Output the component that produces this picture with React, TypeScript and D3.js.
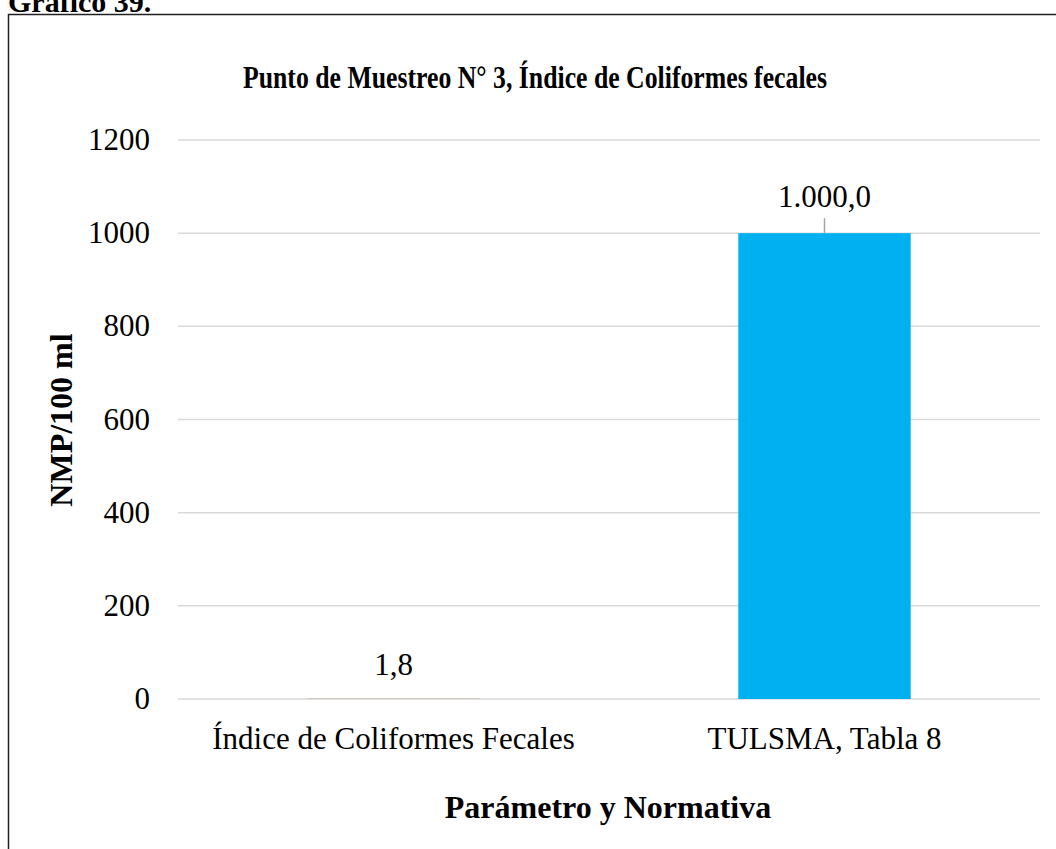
import React from "react";
import * as d3 from "d3";

const categories = ["Índice de Coliformes Fecales", "TULSMA, Tabla 8"];
const values = [1.8, 1000];
const valueLabels = ["1,8", "1.000,0"];
const barColors = ["#CBC2B6", "#00B0F0"];
const yTicks = [0, 200, 400, 600, 800, 1000, 1200];

const W = 1056;
const H = 849;
const left = 178;
const right = 1040;
const top = 140;
const bottom = 699;

export default function App() {
  const x = d3.scaleBand<string>().domain(categories).range([left, right]).padding(0);
  const y = d3.scaleLinear().domain([0, 1200]).range([bottom, top]);
  const bw = x.bandwidth() * 0.4;
  const serif = "'Liberation Serif', 'Times New Roman', serif";

  return (
    <svg
      width={W}
      height={H}
      style={{ position: "absolute", left: 0, top: 0, background: "#fff" }}
      fontFamily={serif}
    >
      <text x={8} y={12} fontSize={30} fontWeight="bold" fill="#000">Gráfico 39.</text>
      <rect x={8.5} y={14.5} width={1200} height={1000} fill="none" stroke="#222" strokeWidth={1.5} />
      <text
        x={535}
        y={88}
        fontSize={31}
        fontWeight="bold"
        textAnchor="middle"
        textLength={584}
        lengthAdjust="spacingAndGlyphs"
        fill="#000"
      >
        Punto de Muestreo N° 3, Índice de Coliformes fecales
      </text>
      {yTicks.map((t) => (
        <g key={t}>
          <line x1={left} x2={right} y1={y(t)} y2={y(t)} stroke="#D9D9D9" strokeWidth={1.5} />
          <text x={150} y={y(t) + 10} fontSize={31} textAnchor="end" fill="#000">
            {t}
          </text>
        </g>
      ))}
      {categories.map((c, i) => {
        const cx = (x(c) as number) + x.bandwidth() / 2;
        const yv = y(values[i]);
        const isBig = values[i] > 100;
        return (
          <g key={c}>
            <rect x={cx - bw / 2} y={yv} width={bw} height={bottom - yv} fill={barColors[i]} />
            {isBig && (
              <line x1={cx} x2={cx} y1={yv - 15} y2={yv} stroke="#A6A6A6" strokeWidth={1.5} />
            )}
            <text
              x={cx}
              y={isBig ? yv - 26 : yv - 23}
              fontSize={31}
              textAnchor="middle"
              fill="#000"
            >
              {valueLabels[i]}
            </text>
            <text x={cx} y={749} fontSize={31} textAnchor="middle" fill="#000">
              {c}
            </text>
          </g>
        );
      })}
      <text x={608} y={818} fontSize={32} fontWeight="bold" textAnchor="middle" fill="#000">
        Parámetro y Normativa
      </text>
      <text
        transform={`translate(72, 420) rotate(-90)`}
        fontSize={32}
        fontWeight="bold"
        textAnchor="middle"
        fill="#000"
      >
        NMP/100 ml
      </text>
    </svg>
  );
}
